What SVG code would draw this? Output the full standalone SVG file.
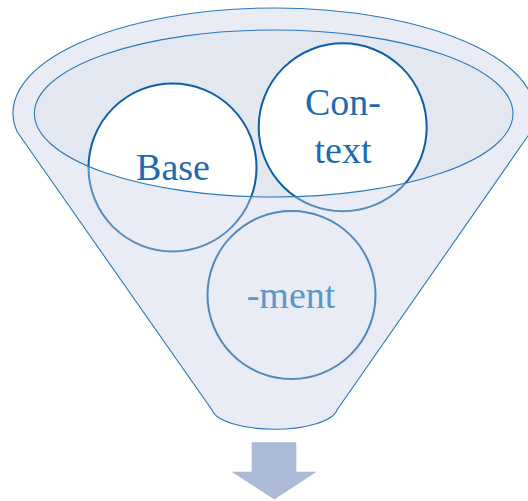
<svg xmlns="http://www.w3.org/2000/svg" width="528" height="501" viewBox="0 0 528 501">
<style>
.lbl{font-family:"Liberation Serif","Times New Roman",serif;font-size:38px;text-anchor:middle;fill:#1C6AB2}
.circ{fill:#ffffff;stroke:#0C5FA8;stroke-width:2}
.outline{fill:none;stroke:#2B78BF;stroke-width:1.1}
</style>
<rect width="528" height="501" fill="#ffffff"/>
<g id="funnel-opening">
<ellipse cx="273.7" cy="113.5" rx="239.3" ry="83.5" fill="#E3E7F0"/>
</g>
<g id="node-base">
<circle class="circ" cx="172.5" cy="167.5" r="84"/>
<text class="lbl" x="173" y="180">Base</text>
</g>
<g id="node-context">
<circle class="circ" cx="342.7" cy="127.3" r="84"/>
<text class="lbl" x="343" y="115">Con-</text>
<text class="lbl" x="343" y="162.5">text</text>
</g>
<g id="funnel-body">
<path d="M17.3,132 L212,410 A63,22 0 0 0 337,410 L530.7,132 A261,105 0 1 0 17.3,132 Z M34.4,113.5 A239.3,83.5 0 1 0 513,113.5 A239.3,83.5 0 1 0 34.4,113.5 Z" fill="#C8CFE3" fill-opacity="0.4" fill-rule="evenodd"/>
<path class="outline" d="M17.3,132 L212,410 A63,22 0 0 0 337,410 L530.7,132 A261,105 0 1 0 17.3,132 Z"/>
<ellipse class="outline" cx="273.7" cy="113.5" rx="239.3" ry="83.5"/>
</g>
<g id="node-ment">
<circle cx="291.5" cy="295" r="84" fill="none" stroke="#5089C0" stroke-width="2"/>
<text class="lbl" x="291" y="307.5" style="fill:#5B97CD">-ment</text>
</g>
<g id="connectors">
<path d="M251.7,442.3 H296.3 V471.7 H316.7 L274.3,499.5 L231.7,471.7 H251.7 Z" fill="#AABAD7"/>
</g>
</svg>
